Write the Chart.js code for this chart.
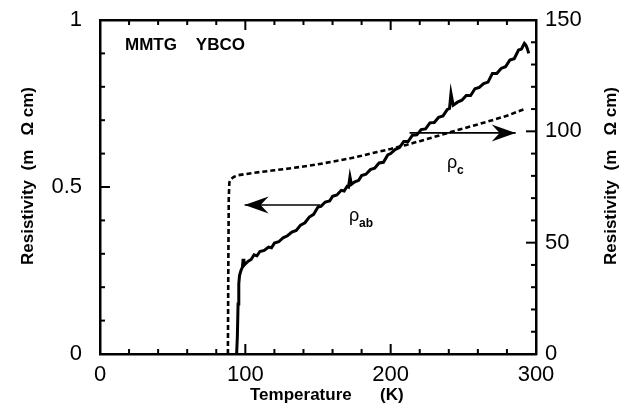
<!DOCTYPE html>
<html>
<head>
<meta charset="utf-8">
<script src="https://cdn.jsdelivr.net/npm/chart.js@4.4.1/dist/chart.umd.min.js"></script>
<style>
html,body{margin:0;padding:0;background:#fff;}
canvas{display:block;}
</style>
</head>
<body>
<canvas id="c" width="624" height="412"></canvas>
<script>
// ---- data ----
const abT = [94,94.5,95,95.5,96,97,98,98.5,99,100,102,104,106,108,110,113,116,118,120,123,126,129,132,135,138,141,144,147,150,152,155,158,160,163,166,168,170,171,172,173,175,178,180,183,186,189,192,195,198,200,203,206,209,212,215,218,221,224,227,230,233,236,239,240.5,241.5,243,246,249,252,255,258,261,264,267,270,273,276,279,282,285,288,290,292,293,294,295];
const abRho = [0,0.05,0.15,0.21,0.235,0.25,0.26,0.285,0.265,0.27,0.278,0.283,0.297,0.294,0.307,0.31,0.32,0.318,0.332,0.336,0.348,0.354,0.365,0.37,0.386,0.393,0.41,0.418,0.44,0.442,0.455,0.458,0.472,0.476,0.49,0.488,0.502,0.5,0.53,0.508,0.515,0.52,0.534,0.538,0.552,0.556,0.572,0.574,0.596,0.6,0.612,0.618,0.636,0.636,0.655,0.656,0.672,0.674,0.692,0.693,0.709,0.713,0.732,0.735,0.78,0.745,0.754,0.76,0.774,0.774,0.794,0.798,0.81,0.814,0.84,0.84,0.855,0.86,0.88,0.884,0.91,0.913,0.93,0.925,0.915,0.9];
const cT = [88,88.3,88.6,89,90,92,95,100,110,120,130,140,150,160,170,180,190,200,210,220,230,240,250,260,270,280,288,292];
const cRho = [0,40,70,77,78.5,79.5,80.3,80.8,81.7,82.5,83.3,84.2,85.2,86.4,87.6,89,90.6,92.1,93.8,95.6,97.5,99.4,101.3,103.1,105,107,109,110];

const xLabels = [0,100,200,300];
const yLabels = [0,0.5,1];
const y2Labels = [0,50,100,150];

const FONT = '"Liberation Sans", Arial, Helvetica, sans-serif';

const abData = abT.map((t,i)=>({x:t,y:abRho[i]}));
const cData = cT.map((t,i)=>({x:t,y:cRho[i]}));

function near(list,v){return list.some(l=>Math.abs(l-v)<1e-9);}

const decor = {
  id:'decor',
  beforeDraw(chart){
    const c=chart.ctx; c.save(); c.fillStyle='#fff'; c.fillRect(0,0,chart.width,chart.height); c.restore();
  },
  afterDraw(chart){
    const {ctx, chartArea:a, scales} = chart;
    const x=scales.x, y=scales.y, y2=scales.y2;
    ctx.save();
    ctx.strokeStyle='#000'; ctx.fillStyle='#000'; ctx.lineWidth=2;
    function seg(x1,y1,x2,y2_){ctx.beginPath();ctx.moveTo(x1,y1);ctx.lineTo(x2,y2_);ctx.stroke();}
    // inward tick marks
    x.ticks.forEach(t=>{
      const v=t.value; if(v<=x.min||v>=x.max) return;
      const px=x.getPixelForValue(v); const L=(v%100===0)?10:5;
      seg(px,a.bottom,px,a.bottom-L); seg(px,a.top,px,a.top+L);
    });
    y.ticks.forEach(t=>{
      const v=t.value; if(v<=y.min+1e-9||v>=y.max-1e-9) return;
      const py=y.getPixelForValue(v); const L=near([0.5],v)?10:5;
      seg(a.left,py,a.left+L,py);
    });
    y2.ticks.forEach(t=>{
      const v=t.value; if(v<=y2.min||v>=y2.max) return;
      const py=y2.getPixelForValue(v); const L=(v%50===0)?10:5;
      seg(a.right,py,a.right-L,py);
    });
    // arrows
    function arrow(x1,y1,x2,y2_){
      ctx.lineWidth=1.6; seg(x1,y1,x2,y2_);
      const dir=Math.sign(x2-x1);
      ctx.beginPath();
      ctx.moveTo(x2,y2_);
      ctx.lineTo(x2-dir*24,y2_-8.5);
      ctx.lineTo(x2-dir*16,y2_);
      ctx.lineTo(x2-dir*24,y2_+8.5);
      ctx.closePath(); ctx.fill();
    }
    arrow(x.getPixelForValue(151.5), y.getPixelForValue(0.446), x.getPixelForValue(99.5), y.getPixelForValue(0.446));
    arrow(x.getPixelForValue(213), y2.getPixelForValue(99.3), x.getPixelForValue(286), y2.getPixelForValue(99.3));
    // texts
    ctx.textBaseline='alphabetic'; ctx.textAlign='left';
    ctx.font='bold 17px '+FONT;
    ctx.fillText('MMTG    YBCO',125,50);
    ctx.font='18px '+FONT; ctx.fillText('ρ',349,221);
    ctx.font='bold 12px '+FONT; ctx.fillText('ab',359,227);
    ctx.font='18px '+FONT; ctx.fillText('ρ',447,168);
    ctx.font='bold 12px '+FONT; ctx.fillText('c',457,174);
    // axis titles
    ctx.font='bold 17px '+FONT; ctx.textBaseline='middle';
    ctx.textAlign='left'; ctx.fillText('Temperature      (K)',250,395);
    ctx.textAlign='center';
    const ttl='Resistivity  (m   Ω cm)';
    ctx.save(); ctx.translate(28,176); ctx.rotate(-Math.PI/2); ctx.fillText(ttl,0,0); ctx.restore();
    ctx.save(); ctx.translate(611,176); ctx.rotate(-Math.PI/2); ctx.fillText(ttl,0,0); ctx.restore();
    ctx.restore();
  }
};

const tickFont = {family:FONT, size:22};
function hiddenGrid(len){return {display:true, color:'rgba(0,0,0,0)', drawOnChartArea:false, drawTicks:true, tickLength:len};}

new Chart(document.getElementById('c'), {
  type:'scatter',
  data:{datasets:[
    {label:'rho_ab', data:abData, yAxisID:'y', showLine:true, borderColor:'#000', borderWidth:3, pointRadius:0, tension:0, fill:false},
    {label:'rho_c', data:cData, yAxisID:'y2', showLine:true, borderColor:'#000', borderWidth:2.6, borderDash:[5,3], pointRadius:0, tension:0, fill:false}
  ]},
  options:{
    responsive:false, devicePixelRatio:1, animation:false,
    layout:{padding:0},
    plugins:{legend:{display:false}, tooltip:{enabled:false}},
    scales:{
      x:{type:'linear', position:'bottom', min:0, max:300,
         grid:hiddenGrid(8),
         border:{display:true, color:'#000', width:2.5},
         ticks:{stepSize:20, autoSkip:false, maxRotation:0, color:'#000', font:tickFont, padding:0,
                callback:v=>near(xLabels,v)?String(v):''},
         afterFit(s){s.height=58;}},
      xTop:{type:'linear', position:'top', min:0, max:300,
         grid:{display:false, drawTicks:false},
         border:{display:true, color:'#000', width:2.5},
         ticks:{display:false},
         afterFit(s){s.height=20;}},
      y:{type:'linear', position:'left', min:0, max:1,
         grid:hiddenGrid(18),
         border:{display:true, color:'#000', width:2.5},
         ticks:{stepSize:0.1, autoSkip:false, color:'#000', font:tickFont, padding:0,
                callback:v=>near(yLabels,v)?String(v):''},
         afterFit(s){s.width=100;}},
      y2:{type:'linear', position:'right', min:0, max:150,
         grid:hiddenGrid(9),
         border:{display:true, color:'#000', width:2.5},
         ticks:{stepSize:10, autoSkip:false, color:'#000', font:tickFont, padding:0,
                callback:v=>near(y2Labels,v)?String(v):''},
         afterFit(s){s.width=88;}}
    }
  },
  plugins:[decor]
});
</script>
</body>
</html>
